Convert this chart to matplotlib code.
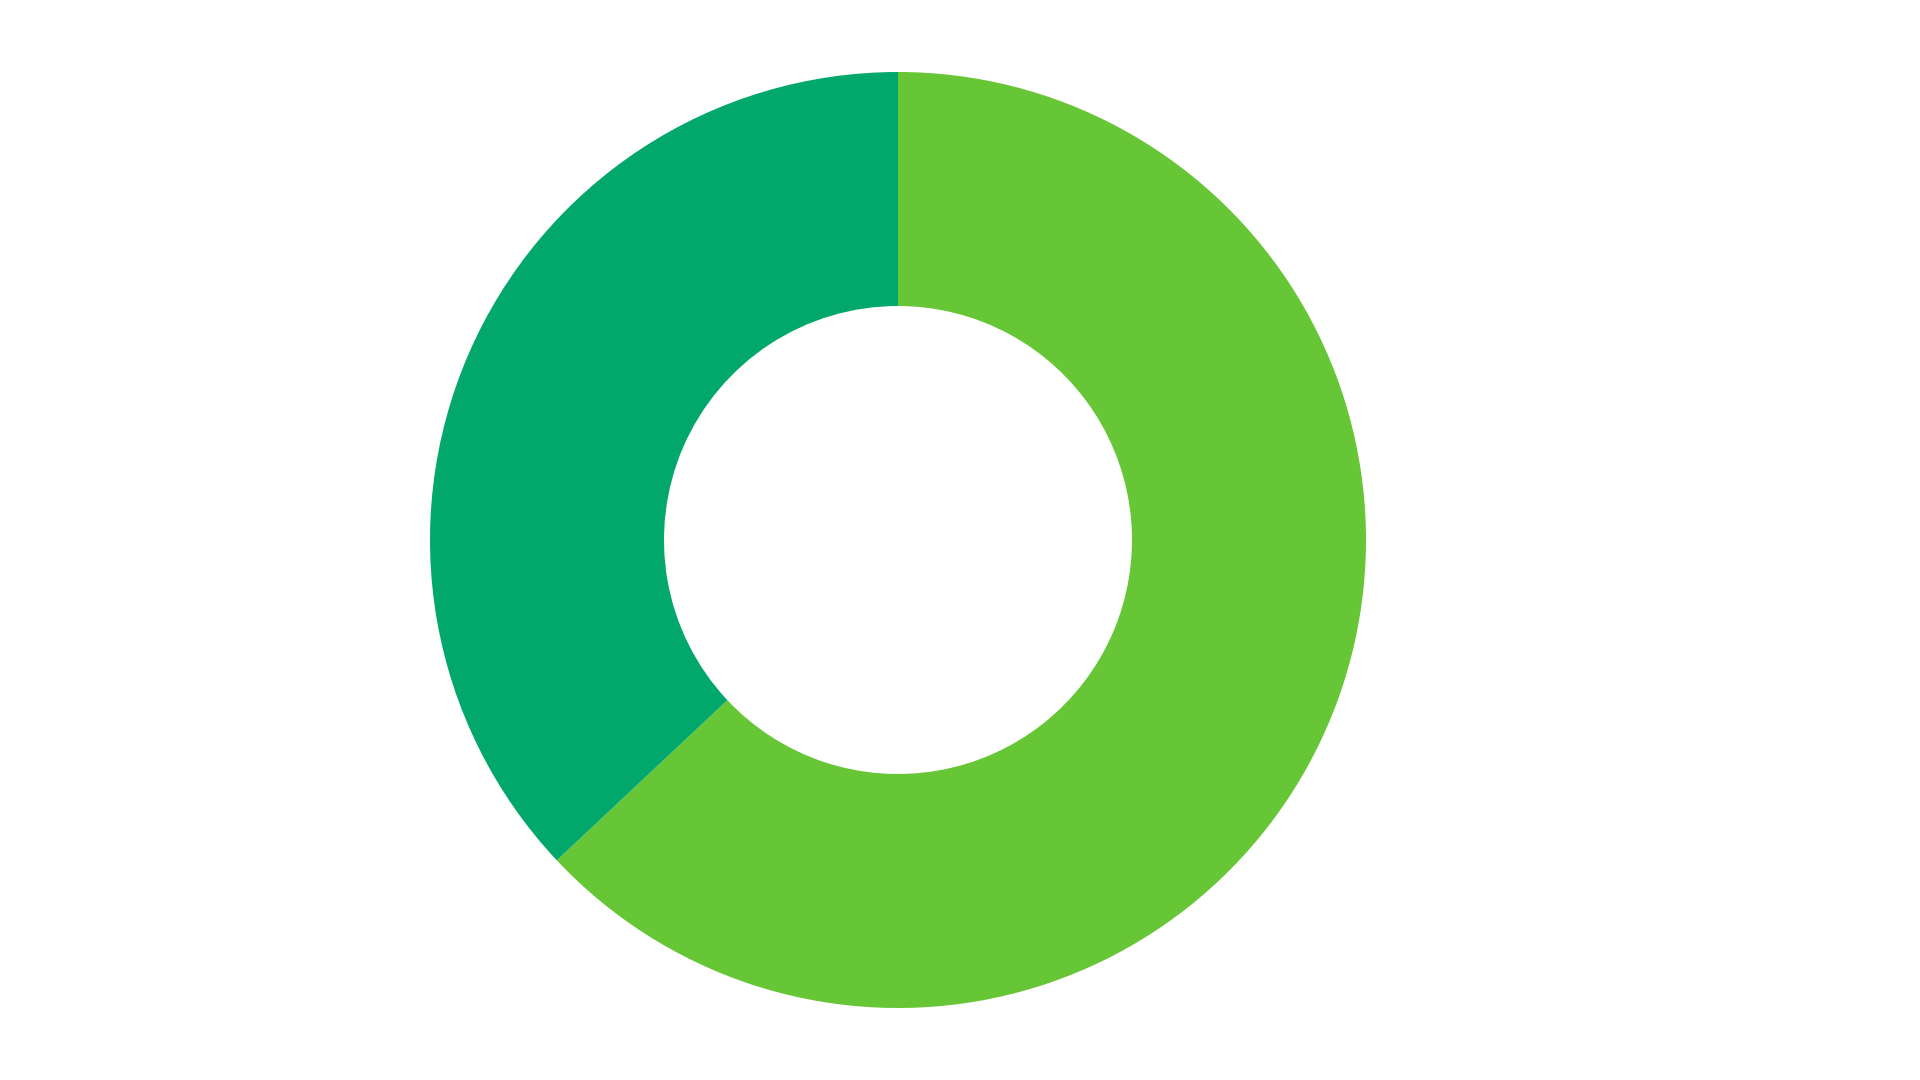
import matplotlib
matplotlib.use("Agg")
import matplotlib.pyplot as plt

labels = ["A", "B"]
values = [63, 37]
colors = ["#66c636", "#02a86b"]

fig = plt.figure(figsize=(19.2, 10.8), dpi=100)
# donut centred at about (898, 540) px, outer radius ~468 px
cx, cy, r = 898 / 1920, 0.5, 468
ax = fig.add_axes([cx - r / 1920, cy - r / 1080, 2 * r / 1920, 2 * r / 1080])
ax.pie(values, colors=colors, startangle=90, counterclock=False,
       radius=1, wedgeprops=dict(width=0.5, linewidth=0))
ax.set_xlim(-1, 1)
ax.set_ylim(-1, 1)
ax.set_aspect("equal")
ax.axis("off")

fig.savefig("out.png", dpi=100)
